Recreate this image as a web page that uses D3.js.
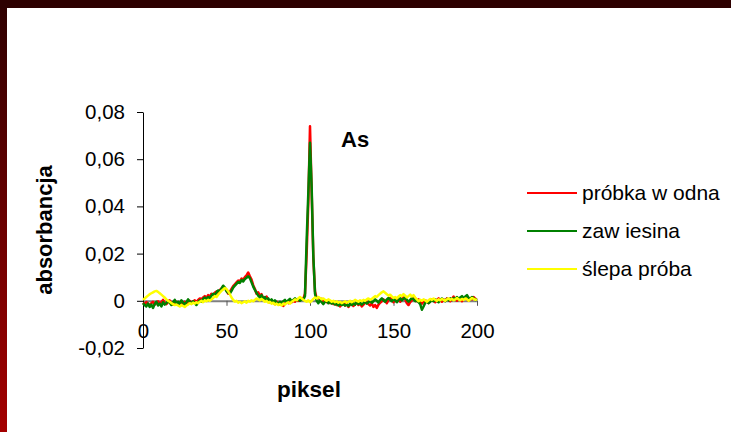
<!DOCTYPE html>
<html><head><meta charset="utf-8">
<script src="https://cdn.jsdelivr.net/npm/d3@7"></script>
<style>body{margin:0;background:#fff}svg{display:block}text{font-family:Arial,"Liberation Sans",sans-serif}</style>
</head><body><svg id="c" width="731" height="432"></svg>
<script>
const xTicks = [0, 50, 100, 150, 200];
const yTicks = [-0.02, 0, 0.02, 0.04, 0.06, 0.08];
const seriesNames = ["próbka w odna", "zaw iesina", "ślepa próba"];
const seriesColors = ["#ff0000", "#008000", "#ffff00"];
const chartTitle = "As";
const xTitle = "piksel";
const yTitle = "absorbancja";

const probkaWodna = [
-0.0008,-0.0015,-0.0005,-0.0012,-0.0020,-0.0010,-0.0004,-0.0016,-0.0008,-0.0002,
-0.0012,-0.0006,0.0004,-0.0010,-0.0014,-0.0006,0.0002,-0.0010,-0.0016,-0.0008,
-0.0004,-0.0014,-0.0008,-0.0018,-0.0010,-0.0004,-0.0012,-0.0006,0.0000,-0.0008,
-0.0004,0.0002,-0.0006,0.0004,0.0010,0.0006,0.0014,0.0020,0.0012,0.0024,
0.0018,0.0030,0.0026,0.0034,0.0040,0.0032,0.0046,0.0052,0.0060,0.0054,
0.0044,0.0030,0.0038,0.0050,0.0062,0.0070,0.0078,0.0086,0.0082,0.0094,
0.0090,0.0100,0.0108,0.0120,0.0104,0.0090,0.0066,0.0050,0.0030,0.0036,
0.0020,0.0028,0.0012,0.0006,0.0018,0.0004,-0.0006,0.0002,-0.0008,-0.0014,
-0.0004,-0.0010,-0.0016,-0.0008,-0.0022,-0.0012,-0.0004,-0.0010,0.0002,-0.0006,
0.0000,-0.0004,0.0006,0.0000,0.0004,0.0010,0.0008,0.0030,0.0200,0.0420,
0.0740,0.0460,0.0180,0.0040,0.0010,0.0014,0.0004,0.0008,-0.0004,0.0002,
-0.0006,-0.0002,-0.0010,-0.0004,-0.0014,-0.0008,-0.0018,-0.0010,-0.0024,-0.0014,
-0.0008,-0.0020,-0.0012,-0.0026,-0.0016,-0.0010,-0.0022,-0.0014,-0.0006,-0.0018,
-0.0010,-0.0024,-0.0016,-0.0008,-0.0004,-0.0014,-0.0020,-0.0010,-0.0026,-0.0018,
-0.0030,-0.0016,-0.0008,-0.0002,0.0006,0.0000,-0.0010,0.0004,0.0012,0.0004,
-0.0006,0.0002,0.0010,0.0004,-0.0004,0.0008,0.0014,0.0006,-0.0010,-0.0018,
-0.0006,0.0002,0.0010,0.0004,-0.0002,0.0006,0.0000,-0.0012,-0.0004,0.0002,
-0.0004,-0.0010,-0.0002,0.0006,0.0000,-0.0006,0.0004,0.0010,0.0002,-0.0004,
0.0006,0.0000,0.0010,0.0004,-0.0002,0.0008,0.0018,0.0006,0.0000,0.0010,
0.0004,-0.0002,0.0008,0.0014,0.0006,0.0000,0.0012,0.0006,0.0016,0.0008,
0.0004];

const zawiesina = [
-0.0010,-0.0018,-0.0024,-0.0012,-0.0026,-0.0016,-0.0030,-0.0014,-0.0004,-0.0020,
-0.0012,-0.0024,-0.0006,-0.0016,-0.0010,0.0000,-0.0008,-0.0018,-0.0006,0.0004,
-0.0012,-0.0004,-0.0014,0.0002,-0.0008,-0.0016,-0.0006,0.0006,-0.0004,-0.0012,
-0.0002,-0.0010,-0.0018,-0.0006,0.0002,-0.0004,0.0008,0.0014,0.0006,0.0016,
0.0010,0.0022,0.0030,0.0024,0.0036,0.0044,0.0040,0.0052,0.0064,0.0056,
0.0040,0.0034,0.0030,0.0042,0.0056,0.0064,0.0072,0.0080,0.0076,0.0088,
0.0082,0.0092,0.0098,0.0104,0.0096,0.0078,0.0060,0.0046,0.0034,0.0022,
0.0014,0.0024,0.0008,0.0016,0.0002,0.0010,-0.0002,0.0006,-0.0006,0.0002,
-0.0008,-0.0014,-0.0004,-0.0010,-0.0002,0.0004,-0.0006,0.0002,0.0008,-0.0002,
0.0004,0.0010,0.0002,0.0008,0.0000,0.0006,0.0004,0.0020,0.0260,0.0460,
0.0670,0.0480,0.0190,0.0030,0.0000,-0.0010,0.0004,-0.0006,-0.0014,-0.0004,
0.0000,-0.0010,-0.0004,-0.0012,-0.0006,-0.0016,-0.0010,-0.0020,-0.0012,-0.0018,
-0.0014,-0.0020,-0.0016,-0.0022,-0.0012,-0.0018,-0.0010,-0.0016,-0.0006,-0.0014,
-0.0008,-0.0016,-0.0010,-0.0004,-0.0012,-0.0006,0.0000,-0.0008,-0.0002,0.0006,
0.0000,-0.0008,0.0004,0.0010,0.0002,-0.0004,0.0006,0.0012,0.0004,-0.0002,
0.0008,0.0002,-0.0006,0.0004,0.0010,0.0002,0.0008,0.0014,0.0004,-0.0004,
0.0004,0.0012,0.0006,-0.0002,0.0004,-0.0006,-0.0014,-0.0038,-0.0024,-0.0008,
-0.0002,-0.0010,-0.0004,0.0004,-0.0002,0.0006,0.0000,-0.0006,0.0004,0.0010,
0.0004,-0.0002,0.0008,0.0002,0.0010,0.0004,0.0012,0.0006,0.0016,0.0008,
0.0014,0.0020,0.0010,0.0018,0.0024,0.0012,0.0006,0.0016,0.0010,0.0004,
0.0008];

const slepaProba = [
0.0004,0.0010,0.0016,0.0022,0.0028,0.0032,0.0036,0.0040,0.0042,0.0038,
0.0032,0.0026,0.0020,0.0014,0.0006,0.0000,-0.0004,-0.0010,-0.0014,-0.0018,
-0.0016,-0.0020,-0.0024,-0.0018,-0.0022,-0.0026,-0.0020,-0.0016,-0.0010,-0.0014,
-0.0008,-0.0012,-0.0006,-0.0010,-0.0004,0.0000,-0.0006,0.0002,-0.0002,0.0004,
0.0000,0.0006,0.0012,0.0020,0.0016,0.0026,0.0034,0.0042,0.0048,0.0054,
0.0050,0.0040,0.0028,0.0014,0.0004,-0.0004,0.0000,-0.0008,-0.0004,-0.0010,
-0.0006,-0.0002,-0.0008,0.0000,-0.0004,0.0002,-0.0002,0.0004,0.0010,0.0006,
0.0002,0.0008,0.0002,-0.0004,0.0000,-0.0008,-0.0004,-0.0012,-0.0008,-0.0016,
-0.0012,-0.0018,-0.0014,-0.0020,-0.0012,-0.0016,-0.0010,-0.0006,-0.0012,-0.0004,
0.0000,0.0006,0.0002,0.0010,0.0016,0.0010,0.0004,0.0000,-0.0004,0.0002,
-0.0006,0.0000,0.0008,0.0014,0.0010,0.0016,0.0012,0.0006,0.0010,0.0004,
0.0000,0.0006,0.0002,-0.0004,0.0000,-0.0006,-0.0002,-0.0008,-0.0004,-0.0010,
-0.0006,-0.0002,-0.0008,-0.0004,0.0000,-0.0006,-0.0002,0.0004,0.0000,-0.0004,
0.0002,-0.0002,0.0004,0.0000,0.0006,0.0010,0.0004,0.0008,0.0014,0.0020,
0.0016,0.0024,0.0030,0.0036,0.0040,0.0034,0.0028,0.0022,0.0026,0.0018,
0.0012,0.0016,0.0010,0.0018,0.0024,0.0020,0.0028,0.0022,0.0014,0.0020,
0.0026,0.0018,0.0024,0.0014,0.0006,-0.0002,0.0004,0.0000,0.0006,0.0002,
-0.0004,0.0002,0.0008,0.0004,0.0010,0.0004,0.0000,0.0006,0.0002,0.0008,
0.0004,0.0000,0.0006,0.0010,0.0004,0.0008,0.0002,0.0006,0.0012,0.0006,
0.0002,0.0008,0.0004,0.0010,0.0006,0.0000,0.0006,0.0012,0.0008,0.0004,
0.0006];

const allSeries = [probkaWodna, zawiesina, slepaProba];

const svg = d3.select("#c");
const defs = svg.append("defs");
const grad = defs.append("linearGradient").attr("id","lg").attr("x1",0).attr("y1",0).attr("x2",0).attr("y2",1);
grad.append("stop").attr("offset","0%").attr("stop-color","#2d0000");
grad.append("stop").attr("offset","100%").attr("stop-color","#a40000");
svg.append("rect").attr("x",0).attr("y",0).attr("width",731).attr("height",432).attr("fill","#fff");
svg.append("rect").attr("x",0).attr("y",0).attr("width",7).attr("height",432).attr("fill","url(#lg)");
svg.append("rect").attr("x",0).attr("y",0).attr("width",731).attr("height",8).attr("fill","#2d0000");

const x = d3.scaleLinear().domain([0, 200]).range([143, 477]);
const y = d3.scaleLinear().domain([-0.02, 0.08]).range([348, 112]);

const fmt = d => d === 0 ? "0" : (d < 0 ? "-" : "") + Math.abs(d).toFixed(2).replace(".", ",");

// x axis at y=0
const gx = svg.append("g").attr("transform", `translate(0,${y(0)})`)
  .call(d3.axisBottom(x).tickValues(xTicks).tickSize(5).tickSizeOuter(0).tickPadding(18).tickFormat(d3.format("d")));
gx.select(".domain").attr("stroke", "#808080").attr("stroke-width", 2);
gx.selectAll(".tick line").attr("stroke", "#555");
gx.selectAll("text").attr("font-size", 20.5).attr("fill", "#000").attr("font-family", "Arial, 'Liberation Sans', sans-serif");

// y axis
const gy = svg.append("g").attr("transform", `translate(${x(0)},0)`)
  .call(d3.axisLeft(y).tickValues(yTicks).tickSize(6).tickSizeOuter(0).tickPadding(12).tickFormat(fmt));
gy.select(".domain").attr("stroke", "#000");
gy.selectAll(".tick line").attr("stroke", "#000");
gy.selectAll("text").attr("font-size", 20.5).attr("fill", "#000").attr("font-family", "Arial, 'Liberation Sans', sans-serif");

const line = d3.line().x((d, i) => x(i)).y(d => y(d));
allSeries.forEach((s, k) => {
  svg.append("path").datum(s).attr("d", line).attr("fill", "none")
    .attr("stroke", seriesColors[k]).attr("stroke-width", 2.5).attr("stroke-linejoin", "round");
});

svg.append("text").attr("x", 341).attr("y", 147).attr("font-size", 22).attr("font-weight", "bold").text(chartTitle);
svg.append("text").attr("x", 309).attr("y", 397).attr("text-anchor", "middle").attr("font-size", 22.5).attr("font-weight", "bold").text(xTitle);
svg.append("text").attr("transform", "translate(52,230) rotate(-90)").attr("text-anchor", "middle").attr("font-size", 22).attr("font-weight", "bold").text(yTitle);

const legY = [193, 231, 269];
seriesNames.forEach((n, k) => {
  svg.append("line").attr("x1", 527).attr("x2", 577).attr("y1", legY[k]).attr("y2", legY[k])
    .attr("stroke", seriesColors[k]).attr("stroke-width", 2);
  svg.append("text").attr("x", 582).attr("y", legY[k]).attr("dy", "0.35em").attr("font-size", 21).text(n);
});
</script></body></html>
